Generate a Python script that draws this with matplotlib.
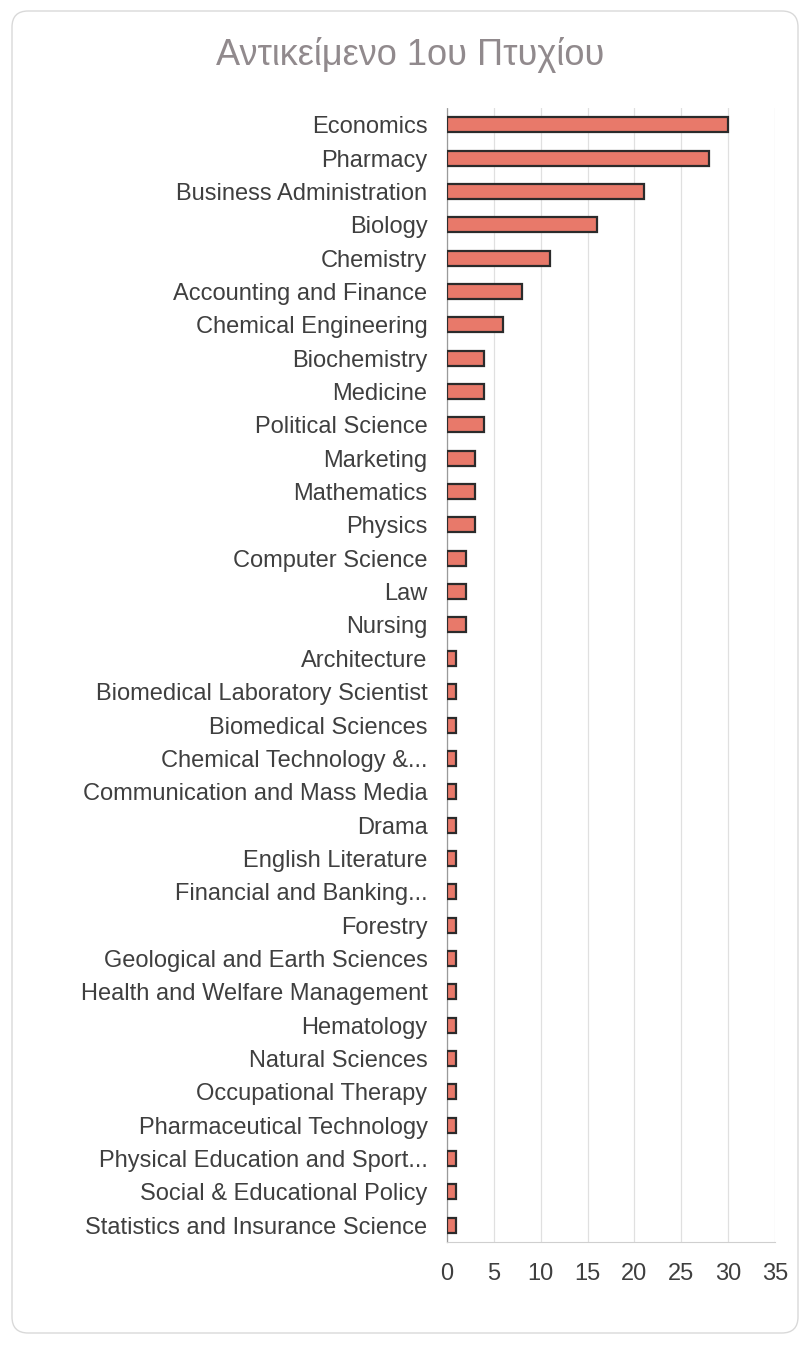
import matplotlib
matplotlib.use("Agg")
import matplotlib.pyplot as plt
from matplotlib.patches import FancyBboxPatch

plt.rcParams['font.family'] = ['Liberation Sans', 'DejaVu Sans']

title = "Αντικείμενο 1ου Πτυχίου"
categories = [
    "Economics", "Pharmacy", "Business Administration", "Biology", "Chemistry",
    "Accounting and Finance", "Chemical Engineering", "Biochemistry", "Medicine",
    "Political Science", "Marketing", "Mathematics", "Physics", "Computer Science",
    "Law", "Nursing", "Architecture", "Biomedical Laboratory Scientist",
    "Biomedical Sciences", "Chemical Technology &...", "Communication and Mass Media",
    "Drama", "English Literature", "Financial and Banking...", "Forestry",
    "Geological and Earth Sciences", "Health and Welfare Management", "Hematology",
    "Natural Sciences", "Occupational Therapy", "Pharmaceutical Technology",
    "Physical Education and Sport...", "Social & Educational Policy",
    "Statistics and Insurance Science",
]
values = [30, 28, 21, 16, 11, 8, 6, 4, 4, 4, 3, 3, 3, 2, 2, 2,
          1, 1, 1, 1, 1, 1, 1, 1, 1, 1, 1, 1, 1, 1, 1, 1, 1, 1]
xticks = [0, 5, 10, 15, 20, 25, 30, 35]

fig = plt.figure(figsize=(8.08, 13.47), dpi=100)
fig.patch.set_facecolor('white')
border = FancyBboxPatch((12/808, 14/1347), 786/808, 1322/1347,
                        boxstyle="round,pad=0,rounding_size=0.02",
                        transform=fig.transFigure, facecolor='none',
                        edgecolor='#d9d9d9', linewidth=1.0, mutation_aspect=808/1347,
                        zorder=-5)
fig.patches.append(border)

ax = fig.add_axes([447/808, 1 - 1242/1347, (775-447)/808, (1242-108)/1347])
ax.set_facecolor('none')
y = list(range(len(categories)))
ax.barh(y, values, height=0.45, color='#E8796A', edgecolor='#2b2b2b', linewidth=1.6, zorder=3)
ax.set_ylim(len(categories) - 0.5, -0.5)
ax.set_xlim(0, 35)
ax.set_xticks(xticks)
ax.set_xticklabels([str(t) for t in xticks])
ax.set_yticks(y)
ax.set_yticklabels(categories)
ax.tick_params(axis='y', length=0, pad=14, labelsize=17, labelcolor='#3f3f3f')
ax.tick_params(axis='x', length=0, pad=15, labelsize=17, labelcolor='#3f3f3f')
ax.grid(axis='x', color='#e0e0e0', linewidth=0.9, zorder=0)
for s in ['top', 'right']:
    ax.spines[s].set_visible(False)
ax.spines['bottom'].set_color('#cfcfcf')
ax.spines['left'].set_color('#9a9a9a')
ax.spines['left'].set_linestyle((0, (1, 1)))
ax.spines['left'].set_linewidth(0.9)

fig.text(410/808, 1 - 55/1347, title, ha='center', va='center',
         fontsize=26, color='#918a8d')

fig.savefig('out.png', dpi=100, facecolor='white')
